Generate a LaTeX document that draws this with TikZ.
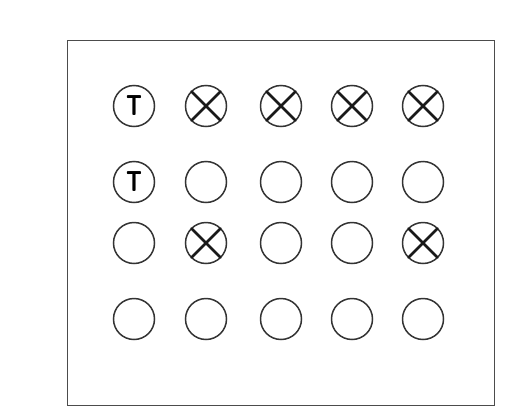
\documentclass[tikz,border=0pt]{standalone}
\begin{document}
\begin{tikzpicture}[x=1pt,y=-1pt,
  hole/.style={circle,draw=black!80,line width=1.5pt,minimum size=41pt,inner sep=0pt},
  tmark/.style={font=\sffamily\bfseries\fontsize{29}{29}\selectfont,text=black,xscale=0.75},
  xline/.style={line width=2.8pt,black!90,line cap=round,shorten <=1pt,shorten >=1pt}]
\useasboundingbox (0,0) rectangle (519,407);
\node[draw=black!70,line width=1pt,minimum width=427pt,minimum height=365pt,inner sep=0pt,anchor=north west] (frame) at (67,40) {};
% columns and rows
\foreach \c/\x in {1/134,2/206,3/281,4/352,5/423}{
  \foreach \r/\y in {1/106,2/182,3/243,4/319}{
    \node[hole] (c\r\c) at (\x,\y) {};
  }
}
\node[tmark] (t11) at (c11) {T};
\node[tmark] (t21) at (c21) {T};
\foreach \n in {c12,c13,c14,c15,c32,c35}{
  \draw[xline] (\n.north west) -- (\n.south east);
  \draw[xline] (\n.north east) -- (\n.south west);
}
\end{tikzpicture}
\end{document}
